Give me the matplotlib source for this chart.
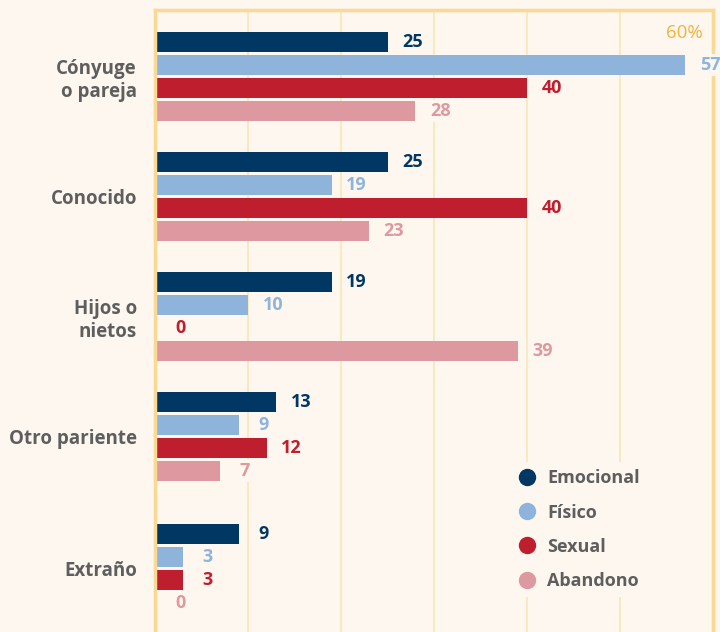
import matplotlib.pyplot as plt
from matplotlib.lines import Line2D
import numpy as np

categories = ['Cónyuge\no pareja', 'Conocido', 'Hijos o\nnietos', 'Otro pariente', 'Extraño']
series = ['Emocional', 'Físico', 'Sexual', 'Abandono']
emocional = [25, 25, 19, 13, 9]
fisico = [57, 19, 10, 9, 3]
sexual = [40, 40, 0, 12, 3]
abandono = [28, 23, 39, 7, 0]
values = [emocional, fisico, sexual, abandono]
colors = ['#003763', '#8eb4dc', '#be1e2d', '#de98a0']

bg = '#fdf7f0'
grid_c = '#fae5b8'
spine_c = '#f9d994'
text_c = '#5e5e5e'

plt.rcParams['font.family'] = ['Open Sans', 'DejaVu Sans']

fig = plt.figure(figsize=(7.2, 6.32), dpi=100, facecolor=bg)
ax = fig.add_axes([155/720, 0, 558/720, 622/632], facecolor=bg)

group_pos = np.array([0, 1, 2.0, 3.0, 4.1])
step = 23/120
h = 20/120
for j, (name, vals, c) in enumerate(zip(series, values, colors)):
    y = group_pos + (j - 1.5)*step
    ax.barh(y, vals, height=h, color=c, zorder=2)
    for yi, v in zip(y, vals):
        ax.annotate(str(v), (v, yi), xytext=(18, 0), textcoords='offset points',
                    ha='center', va='center', fontsize=13, fontweight='bold', color=c,
                    bbox=dict(boxstyle='square,pad=0.1', fc=bg, ec='none'), zorder=4)

ax.set_xlim(0, 60)
ax.set_ylim(4.629, -0.554)
ax.set_xticks(range(0, 61, 10))
ax.tick_params(axis='x', length=0, labelbottom=False)
ax.grid(axis='x', color=grid_c, lw=1.2, zorder=0)
ax.set_yticks(group_pos)
ax.set_yticklabels(categories, fontsize=13.5, fontweight='bold', color=text_c)
ax.tick_params(axis='y', length=0, pad=13)
for s in ['left', 'top', 'right']:
    ax.spines[s].set_color(spine_c)
    ax.spines[s].set_linewidth(2.5)
ax.spines['bottom'].set_visible(False)

ax.text(58.9, -0.3625, '60%', ha='right', va='center', fontsize=13.5, color='#f2b33d')

handles = [Line2D([], [], marker='o', ls='', ms=11.5, color=c) for c in colors]
leg = ax.legend(handles, series, loc='upper left', bbox_to_anchor=(502/720, 1 - 453/632),
                bbox_transform=fig.transFigure, frameon=True, facecolor=bg, edgecolor='none',
                framealpha=1, fontsize=13, handlelength=1, handletextpad=0.6,
                labelspacing=0.9, borderpad=0.4)
for t in leg.get_texts():
    t.set_color(text_c)
    t.set_fontweight('bold')

fig.savefig('out.png', dpi=100, facecolor=bg)
